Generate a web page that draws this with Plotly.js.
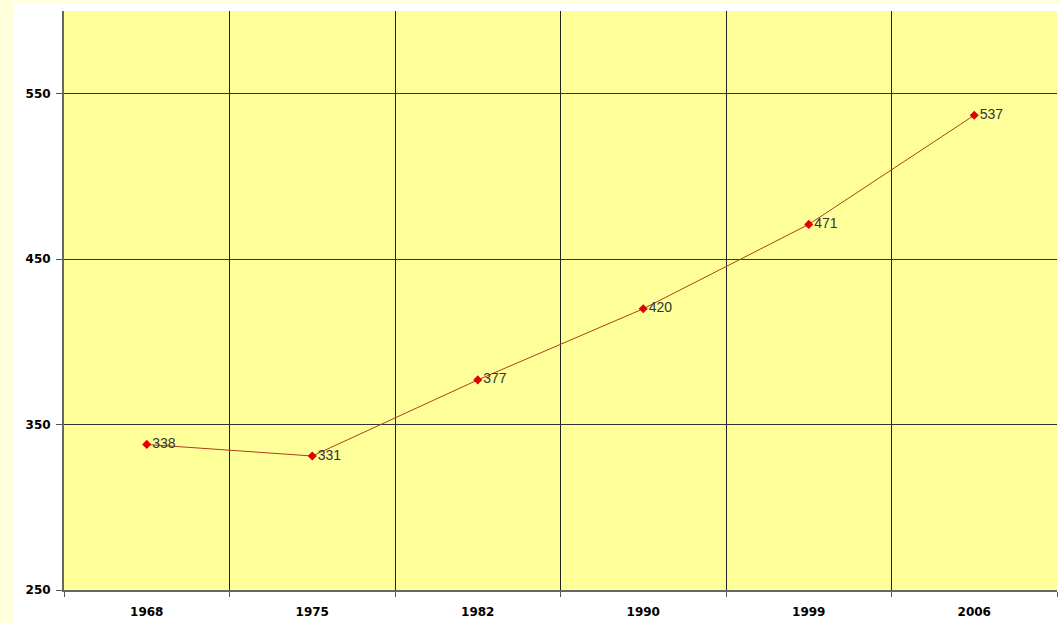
<!DOCTYPE html>
<html>
<head>
<meta charset="utf-8">
<script src="https://cdn.plot.ly/plotly-3.0.1.min.js"></script>
<style>
html,body{margin:0;padding:0;background:#FFFFDC;width:1059px;height:623px;overflow:hidden;}
#chart{position:absolute;left:14px;top:4px;width:1045px;height:619px;}
</style>
</head>
<body>
<div id="chart"></div>
<script>
const years = ['1968', '1975', '1982', '1990', '1999', '2006'];
const values = [338, 331, 377, 420, 471, 537];
const yTicks = [250, 350, 450, 550];

const trace = {
  x: years,
  y: values,
  type: 'scatter',
  mode: 'lines+markers+text',
  text: values.map(String),
  textposition: 'middle right',
  textfont: {family: 'Arial, Liberation Sans, sans-serif', size: 14, color: '#333333'},
  line: {color: '#A8401E', width: 1},
  marker: {symbol: 'diamond', size: 7, color: '#E00000'},
  cliponaxis: false,
  hoverinfo: 'none'
};

const layout = {
  width: 1045,
  height: 619,
  margin: {l: 50, r: 2, t: 7, b: 33},
  paper_bgcolor: '#FFFFFF',
  plot_bgcolor: '#FFFF99',
  showlegend: false,
  xaxis: {
    type: 'category',
    range: [-0.5, 5.5],
    tickson: 'boundaries',
    showgrid: true,
    gridcolor: '#222222',
    gridwidth: 1,
    ticks: 'outside',
    ticklen: 5,
    tickcolor: '#555555',
    showline: true,
    linecolor: '#666666',
    linewidth: 2,
    ticklabelstandoff: 10,
    tickfont: {family: 'DejaVu Sans, sans-serif', size: 12, color: '#000000', weight: 'bold'},
    zeroline: false,
    fixedrange: true
  },
  yaxis: {
    range: [250, 600],
    tickvals: yTicks,
    ticktext: yTicks.map(String),
    showgrid: true,
    gridcolor: '#333333',
    gridwidth: 1,
    ticks: 'outside',
    ticklen: 6,
    tickcolor: '#555555',
    showline: true,
    linecolor: '#666666',
    linewidth: 2,
    ticklabelstandoff: 3,
    tickfont: {family: 'DejaVu Sans, sans-serif', size: 12, color: '#000000', weight: 'bold'},
    zeroline: false,
    fixedrange: true
  }
};

Plotly.newPlot('chart', [trace], layout, {displayModeBar: false, staticPlot: true});
</script>
</body>
</html>
